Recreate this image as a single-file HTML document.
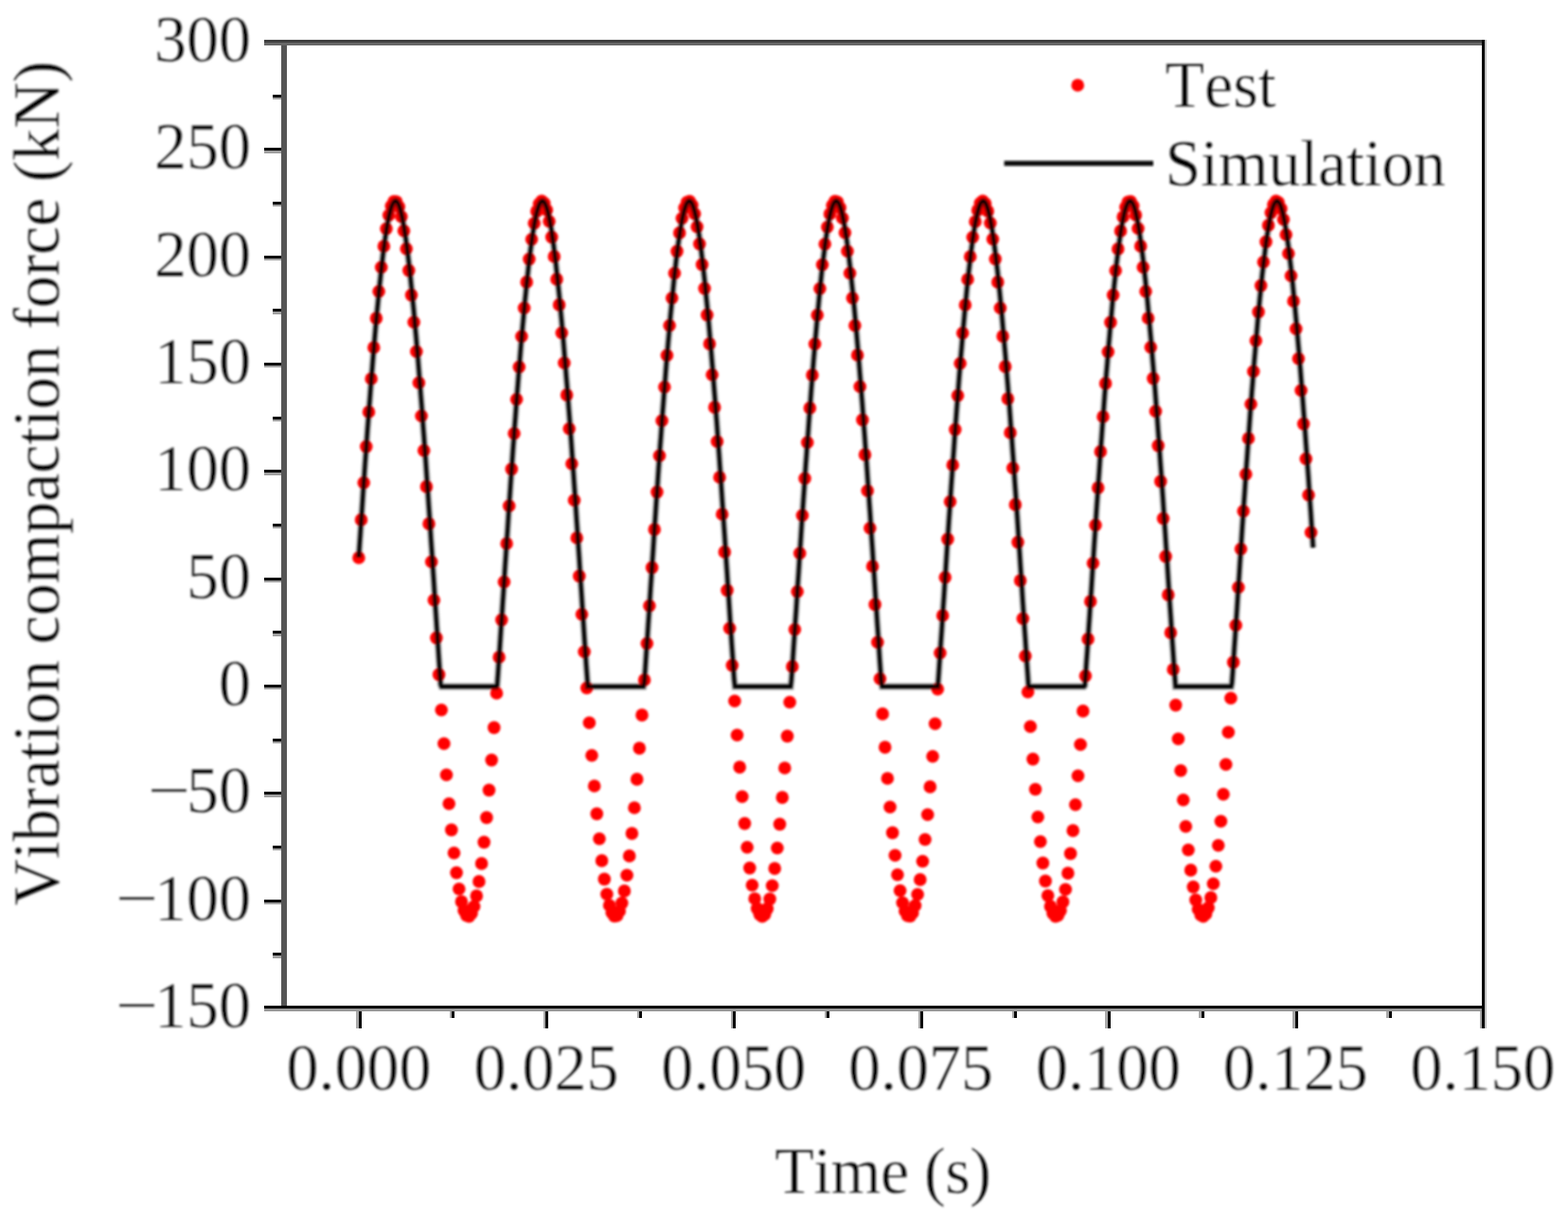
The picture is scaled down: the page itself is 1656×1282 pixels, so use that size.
<!DOCTYPE html>
<html lang="en">
<head>
<meta charset="utf-8">
<title>Vibration compaction force</title>
<style>
html,body{margin:0;padding:0;background:#fff;}
body{width:1656px;height:1282px;overflow:hidden;}
svg{display:block;}
text{font-family:"Liberation Serif", "DejaVu Serif", serif;font-size:68px;fill:#000;stroke:#fff;stroke-width:0.35px;font-kerning:none;}
</style>
</head>
<body>
<svg width="1656" height="1282" viewBox="0 0 1656 1282">
<defs><filter id="soft" x="0" y="0" width="1656" height="1282" filterUnits="userSpaceOnUse"><feGaussianBlur stdDeviation="0.8"/></filter><filter id="softt" x="0" y="0" width="1656" height="1282" filterUnits="userSpaceOnUse"><feGaussianBlur stdDeviation="0.8"/></filter></defs>
<rect x="0" y="0" width="1656" height="1282" fill="#ffffff"/>
<g filter="url(#soft)">
<g fill="#ff0000">
<circle cx="378.9" cy="589.0" r="6.8"/><circle cx="381.5" cy="548.9" r="6.8"/><circle cx="384.2" cy="509.7" r="6.8"/><circle cx="386.8" cy="471.6" r="6.8"/><circle cx="389.5" cy="435.0" r="6.8"/><circle cx="392.1" cy="400.0" r="6.8"/>
<circle cx="394.8" cy="367.0" r="6.8"/><circle cx="397.4" cy="336.1" r="6.8"/><circle cx="400.1" cy="307.8" r="6.8"/><circle cx="402.7" cy="282.3" r="6.8"/><circle cx="405.4" cy="260.0" r="6.8"/><circle cx="408.0" cy="241.5" r="6.8"/>
<circle cx="410.7" cy="227.3" r="6.8"/><circle cx="413.3" cy="217.6" r="6.8"/><circle cx="416.0" cy="212.8" r="6.8"/><circle cx="418.6" cy="213.1" r="6.8"/><circle cx="421.2" cy="218.4" r="6.8"/><circle cx="423.9" cy="228.8" r="6.8"/>
<circle cx="426.5" cy="243.7" r="6.8"/><circle cx="429.2" cy="262.8" r="6.8"/><circle cx="431.8" cy="285.6" r="6.8"/><circle cx="434.5" cy="311.6" r="6.8"/><circle cx="437.1" cy="340.2" r="6.8"/><circle cx="439.8" cy="371.3" r="6.8"/>
<circle cx="442.4" cy="404.3" r="6.8"/><circle cx="445.1" cy="439.3" r="6.8"/><circle cx="447.7" cy="475.8" r="6.8"/><circle cx="450.4" cy="513.9" r="6.8"/><circle cx="453.0" cy="553.1" r="6.8"/><circle cx="455.7" cy="593.3" r="6.8"/>
<circle cx="458.3" cy="633.8" r="6.8"/><circle cx="460.9" cy="673.6" r="6.8"/><circle cx="463.6" cy="712.4" r="6.8"/><circle cx="466.2" cy="749.7" r="6.8"/><circle cx="468.9" cy="785.2" r="6.8"/><circle cx="471.5" cy="818.3" r="6.8"/>
<circle cx="474.2" cy="848.8" r="6.8"/><circle cx="476.8" cy="876.4" r="6.8"/><circle cx="479.5" cy="900.7" r="6.8"/><circle cx="482.1" cy="921.6" r="6.8"/><circle cx="484.8" cy="938.8" r="6.8"/><circle cx="487.4" cy="952.1" r="6.8"/>
<circle cx="490.1" cy="961.4" r="6.8"/><circle cx="492.7" cy="966.6" r="6.8"/><circle cx="495.4" cy="967.6" r="6.8"/><circle cx="498.0" cy="964.5" r="6.8"/><circle cx="500.6" cy="957.3" r="6.8"/><circle cx="503.3" cy="946.1" r="6.8"/>
<circle cx="505.9" cy="930.9" r="6.8"/><circle cx="508.6" cy="911.9" r="6.8"/><circle cx="511.2" cy="889.4" r="6.8"/><circle cx="513.9" cy="863.4" r="6.8"/><circle cx="516.5" cy="834.4" r="6.8"/><circle cx="519.2" cy="802.6" r="6.8"/>
<circle cx="521.8" cy="768.4" r="6.8"/><circle cx="524.5" cy="732.0" r="6.8"/><circle cx="527.1" cy="694.0" r="6.8"/><circle cx="529.8" cy="654.6" r="6.8"/><circle cx="532.4" cy="614.5" r="6.8"/><circle cx="535.1" cy="574.0" r="6.8"/>
<circle cx="537.7" cy="534.2" r="6.8"/><circle cx="540.3" cy="495.4" r="6.8"/><circle cx="543.0" cy="457.8" r="6.8"/><circle cx="545.6" cy="421.8" r="6.8"/><circle cx="548.3" cy="387.5" r="6.8"/><circle cx="550.9" cy="355.3" r="6.8"/>
<circle cx="553.6" cy="325.3" r="6.8"/><circle cx="556.2" cy="297.9" r="6.8"/><circle cx="558.9" cy="273.6" r="6.8"/><circle cx="561.5" cy="252.7" r="6.8"/><circle cx="564.2" cy="235.7" r="6.8"/><circle cx="566.8" cy="223.1" r="6.8"/>
<circle cx="569.5" cy="215.2" r="6.8"/><circle cx="572.1" cy="212.3" r="6.8"/><circle cx="574.8" cy="214.5" r="6.8"/><circle cx="577.4" cy="221.7" r="6.8"/><circle cx="580.0" cy="233.8" r="6.8"/><circle cx="582.7" cy="250.4" r="6.8"/>
<circle cx="585.3" cy="270.9" r="6.8"/><circle cx="588.0" cy="294.9" r="6.8"/><circle cx="590.6" cy="321.9" r="6.8"/><circle cx="593.3" cy="351.5" r="6.8"/><circle cx="595.9" cy="383.3" r="6.8"/><circle cx="598.6" cy="417.1" r="6.8"/>
<circle cx="601.2" cy="452.7" r="6.8"/><circle cx="603.9" cy="489.8" r="6.8"/><circle cx="606.5" cy="528.3" r="6.8"/><circle cx="609.2" cy="568.0" r="6.8"/><circle cx="611.8" cy="608.4" r="6.8"/><circle cx="614.5" cy="648.7" r="6.8"/>
<circle cx="617.1" cy="688.2" r="6.8"/><circle cx="619.7" cy="726.5" r="6.8"/><circle cx="622.4" cy="763.2" r="6.8"/><circle cx="625.0" cy="797.8" r="6.8"/><circle cx="627.7" cy="830.0" r="6.8"/><circle cx="630.3" cy="859.4" r="6.8"/>
<circle cx="633.0" cy="885.8" r="6.8"/><circle cx="635.6" cy="908.9" r="6.8"/><circle cx="638.3" cy="928.4" r="6.8"/><circle cx="640.9" cy="944.2" r="6.8"/><circle cx="643.6" cy="956.0" r="6.8"/><circle cx="646.2" cy="963.8" r="6.8"/>
<circle cx="648.9" cy="967.5" r="6.8"/><circle cx="651.5" cy="967.0" r="6.8"/><circle cx="654.2" cy="962.3" r="6.8"/><circle cx="656.8" cy="953.6" r="6.8"/><circle cx="659.4" cy="940.9" r="6.8"/><circle cx="662.1" cy="924.3" r="6.8"/>
<circle cx="664.7" cy="903.9" r="6.8"/><circle cx="667.4" cy="880.1" r="6.8"/><circle cx="670.0" cy="853.0" r="6.8"/><circle cx="672.7" cy="822.9" r="6.8"/><circle cx="675.3" cy="790.1" r="6.8"/><circle cx="678.0" cy="755.1" r="6.8"/>
<circle cx="680.6" cy="718.0" r="6.8"/><circle cx="683.3" cy="679.5" r="6.8"/><circle cx="685.9" cy="639.8" r="6.8"/><circle cx="688.6" cy="599.4" r="6.8"/><circle cx="691.2" cy="559.1" r="6.8"/><circle cx="693.9" cy="519.6" r="6.8"/>
<circle cx="696.5" cy="481.2" r="6.8"/><circle cx="699.1" cy="444.2" r="6.8"/><circle cx="701.8" cy="408.8" r="6.8"/><circle cx="704.4" cy="375.3" r="6.8"/><circle cx="707.1" cy="343.8" r="6.8"/><circle cx="709.7" cy="314.8" r="6.8"/>
<circle cx="712.4" cy="288.5" r="6.8"/><circle cx="715.0" cy="265.4" r="6.8"/><circle cx="717.7" cy="245.9" r="6.8"/><circle cx="720.3" cy="230.5" r="6.8"/><circle cx="723.0" cy="219.6" r="6.8"/><circle cx="725.6" cy="213.5" r="6.8"/>
<circle cx="728.3" cy="212.5" r="6.8"/><circle cx="730.9" cy="216.6" r="6.8"/><circle cx="733.6" cy="225.7" r="6.8"/><circle cx="736.2" cy="239.5" r="6.8"/><circle cx="738.8" cy="257.6" r="6.8"/><circle cx="741.5" cy="279.4" r="6.8"/>
<circle cx="744.1" cy="304.6" r="6.8"/><circle cx="746.8" cy="332.6" r="6.8"/><circle cx="749.4" cy="363.1" r="6.8"/><circle cx="752.1" cy="395.7" r="6.8"/><circle cx="754.7" cy="430.1" r="6.8"/><circle cx="757.4" cy="466.3" r="6.8"/>
<circle cx="760.0" cy="504.0" r="6.8"/><circle cx="762.7" cy="543.0" r="6.8"/><circle cx="765.3" cy="582.9" r="6.8"/><circle cx="768.0" cy="623.4" r="6.8"/><circle cx="770.6" cy="663.5" r="6.8"/><circle cx="773.3" cy="702.6" r="6.8"/>
<circle cx="775.9" cy="740.3" r="6.8"/><circle cx="778.5" cy="776.3" r="6.8"/><circle cx="781.2" cy="810.1" r="6.8"/><circle cx="783.8" cy="841.3" r="6.8"/><circle cx="786.5" cy="869.6" r="6.8"/><circle cx="789.1" cy="894.8" r="6.8"/>
<circle cx="791.8" cy="916.6" r="6.8"/><circle cx="794.4" cy="934.7" r="6.8"/><circle cx="797.1" cy="949.0" r="6.8"/><circle cx="799.7" cy="959.4" r="6.8"/><circle cx="802.4" cy="965.6" r="6.8"/><circle cx="805.0" cy="967.8" r="6.8"/>
<circle cx="807.7" cy="965.7" r="6.8"/><circle cx="810.3" cy="959.6" r="6.8"/><circle cx="813.0" cy="949.4" r="6.8"/><circle cx="815.6" cy="935.2" r="6.8"/><circle cx="818.2" cy="917.1" r="6.8"/><circle cx="820.9" cy="895.5" r="6.8"/>
<circle cx="823.5" cy="870.4" r="6.8"/><circle cx="826.2" cy="842.1" r="6.8"/><circle cx="828.8" cy="811.0" r="6.8"/><circle cx="831.5" cy="777.4" r="6.8"/><circle cx="834.1" cy="741.5" r="6.8"/><circle cx="836.8" cy="703.9" r="6.8"/>
<circle cx="839.4" cy="664.8" r="6.8"/><circle cx="842.1" cy="624.8" r="6.8"/><circle cx="844.7" cy="584.3" r="6.8"/><circle cx="847.4" cy="544.3" r="6.8"/><circle cx="850.0" cy="505.2" r="6.8"/><circle cx="852.7" cy="467.3" r="6.8"/>
<circle cx="855.3" cy="430.9" r="6.8"/><circle cx="857.9" cy="396.1" r="6.8"/><circle cx="860.6" cy="363.3" r="6.8"/><circle cx="863.2" cy="332.7" r="6.8"/><circle cx="865.9" cy="304.7" r="6.8"/><circle cx="868.5" cy="279.5" r="6.8"/>
<circle cx="871.2" cy="257.7" r="6.8"/><circle cx="873.8" cy="239.7" r="6.8"/><circle cx="876.5" cy="225.9" r="6.8"/><circle cx="879.1" cy="216.8" r="6.8"/><circle cx="881.8" cy="212.6" r="6.8"/><circle cx="884.4" cy="213.4" r="6.8"/>
<circle cx="887.1" cy="219.4" r="6.8"/><circle cx="889.7" cy="230.3" r="6.8"/><circle cx="892.4" cy="245.7" r="6.8"/><circle cx="895.0" cy="265.3" r="6.8"/><circle cx="897.6" cy="288.5" r="6.8"/><circle cx="900.3" cy="314.7" r="6.8"/>
<circle cx="902.9" cy="343.7" r="6.8"/><circle cx="905.6" cy="375.0" r="6.8"/><circle cx="908.2" cy="408.3" r="6.8"/><circle cx="910.9" cy="443.4" r="6.8"/><circle cx="913.5" cy="480.1" r="6.8"/><circle cx="916.2" cy="518.3" r="6.8"/>
<circle cx="918.8" cy="557.7" r="6.8"/><circle cx="921.5" cy="598.0" r="6.8"/><circle cx="924.1" cy="638.4" r="6.8"/><circle cx="926.8" cy="678.2" r="6.8"/><circle cx="929.4" cy="716.8" r="6.8"/><circle cx="932.1" cy="753.9" r="6.8"/>
<circle cx="934.7" cy="789.1" r="6.8"/><circle cx="937.3" cy="822.0" r="6.8"/><circle cx="940.0" cy="852.2" r="6.8"/><circle cx="942.6" cy="879.4" r="6.8"/><circle cx="945.3" cy="903.3" r="6.8"/><circle cx="947.9" cy="923.8" r="6.8"/>
<circle cx="950.6" cy="940.5" r="6.8"/><circle cx="953.2" cy="953.3" r="6.8"/><circle cx="955.9" cy="962.2" r="6.8"/><circle cx="958.5" cy="966.9" r="6.8"/><circle cx="961.2" cy="967.5" r="6.8"/><circle cx="963.8" cy="963.9" r="6.8"/>
<circle cx="966.5" cy="956.2" r="6.8"/><circle cx="969.1" cy="944.5" r="6.8"/><circle cx="971.8" cy="928.9" r="6.8"/><circle cx="974.4" cy="909.5" r="6.8"/><circle cx="977.0" cy="886.5" r="6.8"/><circle cx="979.7" cy="860.2" r="6.8"/>
<circle cx="982.3" cy="830.9" r="6.8"/><circle cx="985.0" cy="798.8" r="6.8"/><circle cx="987.6" cy="764.3" r="6.8"/><circle cx="990.3" cy="727.7" r="6.8"/><circle cx="992.9" cy="689.5" r="6.8"/><circle cx="995.6" cy="650.0" r="6.8"/>
<circle cx="998.2" cy="609.8" r="6.8"/><circle cx="1000.9" cy="569.4" r="6.8"/><circle cx="1003.5" cy="529.7" r="6.8"/><circle cx="1006.2" cy="491.0" r="6.8"/><circle cx="1008.8" cy="453.6" r="6.8"/><circle cx="1011.5" cy="417.7" r="6.8"/>
<circle cx="1014.1" cy="383.7" r="6.8"/><circle cx="1016.7" cy="351.7" r="6.8"/><circle cx="1019.4" cy="322.0" r="6.8"/><circle cx="1022.0" cy="295.0" r="6.8"/><circle cx="1024.7" cy="271.0" r="6.8"/><circle cx="1027.3" cy="250.5" r="6.8"/>
<circle cx="1030.0" cy="234.0" r="6.8"/><circle cx="1032.6" cy="222.0" r="6.8"/><circle cx="1035.3" cy="214.6" r="6.8"/><circle cx="1037.9" cy="212.3" r="6.8"/><circle cx="1040.6" cy="215.0" r="6.8"/><circle cx="1043.2" cy="222.9" r="6.8"/>
<circle cx="1045.9" cy="235.5" r="6.8"/><circle cx="1048.5" cy="252.5" r="6.8"/><circle cx="1051.2" cy="273.5" r="6.8"/><circle cx="1053.8" cy="297.9" r="6.8"/><circle cx="1056.4" cy="325.2" r="6.8"/><circle cx="1059.1" cy="355.1" r="6.8"/>
<circle cx="1061.7" cy="387.1" r="6.8"/><circle cx="1064.4" cy="421.1" r="6.8"/><circle cx="1067.0" cy="456.9" r="6.8"/><circle cx="1069.7" cy="494.2" r="6.8"/><circle cx="1072.3" cy="532.9" r="6.8"/><circle cx="1075.0" cy="572.6" r="6.8"/>
<circle cx="1077.6" cy="613.1" r="6.8"/><circle cx="1080.3" cy="653.3" r="6.8"/><circle cx="1082.9" cy="692.7" r="6.8"/><circle cx="1085.6" cy="730.8" r="6.8"/><circle cx="1088.2" cy="767.3" r="6.8"/><circle cx="1090.9" cy="801.6" r="6.8"/>
<circle cx="1093.5" cy="833.5" r="6.8"/><circle cx="1096.1" cy="862.7" r="6.8"/><circle cx="1098.8" cy="888.7" r="6.8"/><circle cx="1101.4" cy="911.4" r="6.8"/><circle cx="1104.1" cy="930.4" r="6.8"/><circle cx="1106.7" cy="945.7" r="6.8"/>
<circle cx="1109.4" cy="957.1" r="6.8"/><circle cx="1112.0" cy="964.4" r="6.8"/><circle cx="1114.7" cy="967.6" r="6.8"/><circle cx="1117.3" cy="966.7" r="6.8"/><circle cx="1120.0" cy="961.6" r="6.8"/><circle cx="1122.6" cy="952.4" r="6.8"/>
<circle cx="1125.3" cy="939.2" r="6.8"/><circle cx="1127.9" cy="922.1" r="6.8"/><circle cx="1130.6" cy="901.4" r="6.8"/><circle cx="1133.2" cy="877.1" r="6.8"/><circle cx="1135.8" cy="849.7" r="6.8"/><circle cx="1138.5" cy="819.3" r="6.8"/>
<circle cx="1141.1" cy="786.2" r="6.8"/><circle cx="1143.8" cy="750.9" r="6.8"/><circle cx="1146.4" cy="713.7" r="6.8"/><circle cx="1149.1" cy="674.9" r="6.8"/><circle cx="1151.7" cy="635.1" r="6.8"/><circle cx="1154.4" cy="594.7" r="6.8"/>
<circle cx="1157.0" cy="554.5" r="6.8"/><circle cx="1159.7" cy="515.1" r="6.8"/><circle cx="1162.3" cy="476.9" r="6.8"/><circle cx="1165.0" cy="440.0" r="6.8"/><circle cx="1167.6" cy="404.9" r="6.8"/><circle cx="1170.3" cy="371.5" r="6.8"/>
<circle cx="1172.9" cy="340.4" r="6.8"/><circle cx="1175.6" cy="311.6" r="6.8"/><circle cx="1178.2" cy="285.7" r="6.8"/><circle cx="1180.8" cy="262.9" r="6.8"/><circle cx="1183.5" cy="243.9" r="6.8"/><circle cx="1186.1" cy="229.0" r="6.8"/>
<circle cx="1188.8" cy="218.7" r="6.8"/><circle cx="1191.4" cy="213.2" r="6.8"/><circle cx="1194.1" cy="212.7" r="6.8"/><circle cx="1196.7" cy="217.4" r="6.8"/><circle cx="1199.4" cy="227.0" r="6.8"/><circle cx="1202.0" cy="241.3" r="6.8"/>
<circle cx="1204.7" cy="259.9" r="6.8"/><circle cx="1207.3" cy="282.2" r="6.8"/><circle cx="1210.0" cy="307.7" r="6.8"/><circle cx="1212.6" cy="336.0" r="6.8"/><circle cx="1215.3" cy="366.8" r="6.8"/><circle cx="1217.9" cy="399.6" r="6.8"/>
<circle cx="1220.5" cy="434.2" r="6.8"/><circle cx="1223.2" cy="470.6" r="6.8"/><circle cx="1225.8" cy="508.4" r="6.8"/><circle cx="1228.5" cy="547.5" r="6.8"/><circle cx="1231.1" cy="587.6" r="6.8"/><circle cx="1233.8" cy="628.1" r="6.8"/>
<circle cx="1236.4" cy="668.1" r="6.8"/><circle cx="1239.1" cy="707.0" r="6.8"/><circle cx="1241.7" cy="744.6" r="6.8"/><circle cx="1244.4" cy="780.3" r="6.8"/><circle cx="1247.0" cy="813.8" r="6.8"/><circle cx="1249.7" cy="844.7" r="6.8"/>
<circle cx="1252.3" cy="872.7" r="6.8"/><circle cx="1255.0" cy="897.5" r="6.8"/><circle cx="1257.6" cy="918.9" r="6.8"/><circle cx="1260.2" cy="936.6" r="6.8"/><circle cx="1262.9" cy="950.4" r="6.8"/><circle cx="1265.5" cy="960.3" r="6.8"/>
<circle cx="1268.2" cy="966.1" r="6.8"/><circle cx="1270.8" cy="967.7" r="6.8"/><circle cx="1273.5" cy="965.2" r="6.8"/><circle cx="1276.1" cy="958.6" r="6.8"/><circle cx="1278.8" cy="947.9" r="6.8"/><circle cx="1281.4" cy="933.3" r="6.8"/>
<circle cx="1284.1" cy="914.8" r="6.8"/><circle cx="1286.7" cy="892.8" r="6.8"/><circle cx="1289.4" cy="867.3" r="6.8"/><circle cx="1292.0" cy="838.7" r="6.8"/><circle cx="1294.7" cy="807.3" r="6.8"/><circle cx="1297.3" cy="773.3" r="6.8"/>
<circle cx="1299.9" cy="737.2" r="6.8"/><circle cx="1302.6" cy="699.4" r="6.8"/><circle cx="1305.2" cy="660.2" r="6.8"/><circle cx="1307.9" cy="620.2" r="6.8"/><circle cx="1310.5" cy="579.7" r="6.8"/><circle cx="1313.2" cy="539.8" r="6.8"/>
<circle cx="1315.8" cy="500.8" r="6.8"/><circle cx="1318.5" cy="463.0" r="6.8"/><circle cx="1321.1" cy="426.8" r="6.8"/><circle cx="1323.8" cy="392.2" r="6.8"/><circle cx="1326.4" cy="359.7" r="6.8"/><circle cx="1329.1" cy="329.4" r="6.8"/>
<circle cx="1331.7" cy="301.6" r="6.8"/><circle cx="1334.4" cy="276.8" r="6.8"/><circle cx="1337.0" cy="255.4" r="6.8"/><circle cx="1339.6" cy="237.9" r="6.8"/><circle cx="1342.3" cy="224.6" r="6.8"/><circle cx="1344.9" cy="216.0" r="6.8"/>
<circle cx="1347.6" cy="212.4" r="6.8"/><circle cx="1350.2" cy="213.8" r="6.8"/><circle cx="1352.9" cy="220.4" r="6.8"/><circle cx="1355.5" cy="231.8" r="6.8"/><circle cx="1358.2" cy="247.8" r="6.8"/><circle cx="1360.8" cy="267.8" r="6.8"/>
<circle cx="1363.5" cy="291.3" r="6.8"/><circle cx="1366.1" cy="318.0" r="6.8"/><circle cx="1368.8" cy="347.2" r="6.8"/><circle cx="1371.4" cy="378.7" r="6.8"/><circle cx="1374.1" cy="412.2" r="6.8"/><circle cx="1376.7" cy="447.6" r="6.8"/>
<circle cx="1379.3" cy="484.5" r="6.8"/><circle cx="1382.0" cy="522.8" r="6.8"/><circle cx="1384.6" cy="562.3" r="6.8"/>
</g>
<polyline fill="none" stroke="#000" stroke-opacity="0.35" stroke-width="7.4" stroke-linejoin="miter" points="378.9,589.0 379.7,576.2 380.6,563.5 381.4,550.9 382.3,538.3 383.1,525.9 383.9,513.6 384.8,501.3 385.6,489.3 386.5,477.4 
387.3,465.6 388.1,454.0 389.0,442.5 389.8,431.2 390.7,420.1 391.5,409.2 392.3,398.4 393.2,387.9 394.0,377.5 394.9,367.4 
395.7,357.5 396.5,347.8 397.4,338.3 398.2,329.1 399.1,320.2 399.9,311.5 400.7,303.1 401.6,295.0 402.4,287.1 403.3,279.6 
404.1,272.4 404.9,265.6 405.8,259.1 406.6,253.0 407.5,247.3 408.3,241.9 409.1,237.0 410.0,232.5 410.8,228.4 411.7,224.7 
412.5,221.5 413.3,218.8 414.2,216.5 415.0,214.8 415.9,213.4 416.7,212.6 417.5,212.3 418.4,212.4 419.2,213.1 420.1,214.2 
420.9,215.9 421.7,218.0 422.6,220.6 423.4,223.7 424.3,227.3 425.1,231.2 425.9,235.7 426.8,240.5 427.6,245.8 428.5,251.5 
429.3,257.5 430.1,264.0 431.0,270.7 431.8,277.8 432.7,285.3 433.5,293.0 434.3,301.1 435.2,309.4 436.0,318.0 436.9,326.9 
437.7,336.0 438.5,345.4 439.4,354.9 440.2,364.7 441.1,374.8 441.9,385.0 442.7,395.4 443.6,406.0 444.4,416.8 445.3,427.8 
446.1,438.9 446.9,450.2 447.8,461.7 448.6,473.4 449.5,485.2 450.3,497.1 451.1,509.2 452.0,521.4 452.8,533.8 453.7,546.2 
454.5,558.8 455.3,571.5 456.2,584.2 457.0,597.1 457.9,610.0 458.7,622.8 459.5,635.6 460.4,648.4 461.2,661.1 462.1,673.7 
462.9,686.2 463.7,698.6 464.6,710.8 465.4,722.9 466.3,725.0 524.2,725.0 525.0,724.3 525.9,712.2 526.7,700.0 527.6,687.6 
528.4,675.1 529.2,662.5 530.1,649.9 530.9,637.1 531.8,624.3 532.6,611.5 533.4,598.6 534.3,585.7 535.1,573.0 536.0,560.3 
536.8,547.6 537.6,535.1 538.5,522.7 539.3,510.4 540.2,498.3 541.0,486.2 541.8,474.3 542.7,462.6 543.5,451.0 544.4,439.6 
545.2,428.3 546.0,417.3 546.9,406.4 547.7,395.7 548.6,385.2 549.4,374.9 550.2,364.8 551.1,355.0 551.9,345.4 552.8,336.0 
553.6,326.8 554.4,317.9 555.3,309.3 556.1,301.0 557.0,292.9 557.8,285.2 558.6,277.8 559.5,270.7 560.3,263.9 561.2,257.5 
562.0,251.5 562.8,245.9 563.7,240.6 564.5,235.8 565.4,231.4 566.2,227.4 567.0,223.9 567.9,220.8 568.7,218.2 569.6,216.0 
570.4,214.4 571.2,213.2 572.1,212.5 572.9,212.3 573.8,212.6 574.6,213.3 575.4,214.6 576.3,216.4 577.1,218.6 578.0,221.4 
578.8,224.6 579.6,228.2 580.5,232.3 581.3,236.9 582.2,241.8 583.0,247.2 583.8,253.0 584.7,259.1 585.5,265.7 586.4,272.5 
587.2,279.7 588.0,287.2 588.9,295.1 589.7,303.2 590.6,311.6 591.4,320.3 592.2,329.2 593.1,338.4 593.9,347.8 594.8,357.4 
595.6,367.3 596.4,377.3 597.3,387.6 598.1,398.1 599.0,408.7 599.8,419.6 600.6,430.6 601.5,441.8 602.3,453.1 603.2,464.7 
604.0,476.4 604.8,488.2 605.7,500.2 606.5,512.3 607.4,524.6 608.2,536.9 609.0,549.4 609.9,562.0 610.7,574.7 611.6,587.5 
612.4,600.4 613.2,613.2 614.1,626.1 614.9,638.9 615.8,651.6 616.6,664.3 617.4,676.9 618.3,689.3 619.1,701.7 620.0,713.9 
620.8,725.0 679.6,725.0 680.4,721.3 681.3,709.1 682.1,696.8 682.9,684.4 683.8,671.9 684.6,659.3 685.5,646.6 686.3,633.8 
687.1,621.0 688.0,608.2 688.8,595.3 689.7,582.5 690.5,569.7 691.3,557.0 692.2,544.4 693.0,531.9 693.9,519.6 694.7,507.3 
695.5,495.2 696.4,483.2 697.2,471.3 698.1,459.6 698.9,448.1 699.7,436.7 700.6,425.5 701.4,414.5 702.3,403.6 703.1,393.0 
703.9,382.6 704.8,372.3 705.6,362.3 706.5,352.5 707.3,342.9 708.1,333.6 709.0,324.5 709.8,315.7 710.7,307.2 711.5,298.9 
712.3,290.9 713.2,283.3 714.0,275.9 714.9,268.9 715.7,262.2 716.5,255.9 717.4,250.0 718.2,244.5 719.1,239.3 719.9,234.6 
720.7,230.3 721.6,226.5 722.4,223.0 723.3,220.1 724.1,217.6 724.9,215.6 725.8,214.0 726.6,213.0 727.5,212.4 728.3,212.3 
729.1,212.7 730.0,213.6 730.8,215.0 731.7,216.9 732.5,219.3 733.3,222.1 734.2,225.5 735.0,229.2 735.9,233.5 736.7,238.1 
737.5,243.2 738.4,248.7 739.2,254.5 740.1,260.8 740.9,267.4 741.7,274.3 742.6,281.6 743.4,289.2 744.3,297.1 745.1,305.3 
745.9,313.8 746.8,322.5 747.6,331.5 748.5,340.8 749.3,350.2 750.1,359.9 751.0,369.8 751.8,379.9 752.7,390.3 753.5,400.8 
754.3,411.5 755.2,422.4 756.0,433.4 756.9,444.7 757.7,456.1 758.5,467.6 759.4,479.4 760.2,491.2 761.1,503.3 761.9,515.4 
762.7,527.7 763.6,540.1 764.4,552.7 765.3,565.3 766.1,578.0 766.9,590.8 767.8,603.7 768.6,616.5 769.5,629.4 770.3,642.1 
771.1,654.9 772.0,667.5 772.8,680.1 773.7,692.5 774.5,704.8 775.3,717.0 776.2,725.0 835.0,725.0 835.8,718.2 836.7,706.0 
837.5,693.7 838.3,681.2 839.2,668.7 840.0,656.1 840.9,643.3 841.7,630.6 842.5,617.7 843.4,604.9 844.2,592.0 845.1,579.2 
845.9,566.5 846.7,553.8 847.6,541.2 848.4,528.8 849.3,516.4 850.1,504.2 850.9,492.1 851.8,480.1 852.6,468.3 853.5,456.7 
854.3,445.2 855.1,433.8 856.0,422.7 856.8,411.7 857.7,400.9 858.5,390.3 859.3,379.9 860.2,369.7 861.0,359.8 861.9,350.0 
862.7,340.5 863.5,331.3 864.4,322.2 865.2,313.5 866.1,305.0 866.9,296.8 867.7,288.9 868.6,281.3 869.4,274.1 870.3,267.2 
871.1,260.6 871.9,254.4 872.8,248.6 873.6,243.1 874.5,238.1 875.3,233.5 876.1,229.3 877.0,225.5 877.8,222.2 878.7,219.4 
879.5,217.0 880.3,215.1 881.2,213.7 882.0,212.8 882.8,212.3 883.7,212.4 884.5,212.9 885.4,213.9 886.2,215.5 887.0,217.5 
887.9,220.0 888.7,222.9 889.6,226.4 890.4,230.3 891.2,234.6 892.1,239.4 892.9,244.5 893.8,250.1 894.6,256.1 895.4,262.4 
896.3,269.1 897.1,276.2 898.0,283.5 898.8,291.2 899.6,299.2 900.5,307.5 901.3,316.0 902.2,324.8 903.0,333.9 903.8,343.2 
904.7,352.7 905.5,362.4 906.4,372.4 907.2,382.6 908.0,392.9 908.9,403.5 909.7,414.2 910.6,425.2 911.4,436.3 912.2,447.6 
913.1,459.0 913.9,470.6 914.8,482.4 915.6,494.3 916.4,506.4 917.3,518.6 918.1,530.9 919.0,543.3 919.8,555.9 920.6,568.5 
921.5,581.3 922.3,594.1 923.2,607.0 924.0,619.8 924.8,632.6 925.7,645.4 926.5,658.1 927.4,670.7 928.2,683.2 929.0,695.7 
929.9,708.0 930.7,720.1 931.6,725.0 990.4,725.0 991.2,715.1 992.0,702.9 992.9,690.5 993.7,678.0 994.6,665.5 995.4,652.8 
996.2,640.1 997.1,627.3 997.9,614.5 998.8,601.6 999.6,588.7 1000.4,575.9 1001.3,563.2 1002.1,550.6 1003.0,538.0 1003.8,525.6 
1004.6,513.3 1005.5,501.1 1006.3,489.0 1007.2,477.1 1008.0,465.3 1008.8,453.7 1009.7,442.2 1010.5,431.0 1011.4,419.8 1012.2,408.9 
1013.0,398.2 1013.9,387.6 1014.7,377.3 1015.6,367.2 1016.4,357.3 1017.2,347.6 1018.1,338.1 1018.9,328.9 1019.8,320.0 1020.6,311.3 
1021.4,302.9 1022.3,294.8 1023.1,287.0 1024.0,279.5 1024.8,272.3 1025.6,265.5 1026.5,259.0 1027.3,252.9 1028.2,247.1 1029.0,241.8 
1029.8,236.9 1030.7,232.4 1031.5,228.3 1032.4,224.6 1033.2,221.5 1034.0,218.7 1034.9,216.5 1035.7,214.7 1036.6,213.4 1037.4,212.6 
1038.2,212.3 1039.1,212.5 1039.9,213.1 1040.8,214.3 1041.6,215.9 1042.4,218.1 1043.3,220.7 1044.1,223.8 1045.0,227.3 1045.8,231.3 
1046.6,235.8 1047.5,240.6 1048.3,245.9 1049.2,251.6 1050.0,257.7 1050.8,264.1 1051.7,270.9 1052.5,278.0 1053.4,285.5 1054.2,293.2 
1055.0,301.3 1055.9,309.6 1056.7,318.2 1057.6,327.1 1058.4,336.2 1059.2,345.6 1060.1,355.2 1060.9,365.0 1061.8,375.0 1062.6,385.2 
1063.4,395.6 1064.3,406.2 1065.1,417.0 1066.0,428.0 1066.8,439.1 1067.6,450.5 1068.5,462.0 1069.3,473.6 1070.2,485.4 1071.0,497.4 
1071.8,509.5 1072.7,521.7 1073.5,534.0 1074.4,546.5 1075.2,559.1 1076.0,571.8 1076.9,584.5 1077.7,597.4 1078.6,610.2 1079.4,623.1 
1080.2,635.9 1081.1,648.6 1081.9,661.3 1082.8,673.9 1083.6,686.4 1084.4,698.8 1085.3,711.1 1086.1,723.2 1086.9,725.0 1144.9,725.0 
1145.7,724.1 1146.6,712.0 1147.4,699.7 1148.3,687.3 1149.1,674.8 1149.9,662.3 1150.8,649.6 1151.6,636.8 1152.5,624.0 1153.3,611.2 
1154.1,598.3 1155.0,585.4 1155.8,572.7 1156.7,560.0 1157.5,547.4 1158.3,534.9 1159.2,522.4 1160.0,510.2 1160.9,498.0 1161.7,486.0 
1162.5,474.1 1163.4,462.3 1164.2,450.8 1165.1,439.3 1165.9,428.1 1166.7,417.0 1167.6,406.2 1168.4,395.5 1169.3,385.0 1170.1,374.7 
1170.9,364.6 1171.8,354.8 1172.6,345.1 1173.5,335.8 1174.3,326.6 1175.1,317.7 1176.0,309.1 1176.8,300.8 1177.7,292.8 1178.5,285.0 
1179.3,277.6 1180.2,270.5 1181.0,263.8 1181.9,257.4 1182.7,251.4 1183.5,245.7 1184.4,240.5 1185.2,235.7 1186.1,231.3 1186.9,227.3 
1187.7,223.8 1188.6,220.7 1189.4,218.1 1190.3,216.0 1191.1,214.3 1191.9,213.2 1192.8,212.5 1193.6,212.3 1194.5,212.6 1195.3,213.4 
1196.1,214.7 1197.0,216.4 1197.8,218.7 1198.7,221.4 1199.5,224.6 1200.3,228.3 1201.2,232.4 1202.0,237.0 1202.9,242.0 1203.7,247.3 
1204.5,253.1 1205.4,259.3 1206.2,265.8 1207.1,272.7 1207.9,279.9 1208.7,287.4 1209.6,295.2 1210.4,303.4 1211.3,311.8 1212.1,320.5 
1212.9,329.4 1213.8,338.6 1214.6,348.0 1215.5,357.6 1216.3,367.5 1217.1,377.6 1218.0,387.8 1218.8,398.3 1219.7,409.0 1220.5,419.8 
1221.3,430.8 1222.2,442.0 1223.0,453.4 1223.9,464.9 1224.7,476.6 1225.5,488.5 1226.4,500.4 1227.2,512.6 1228.1,524.8 1228.9,537.2 
1229.7,549.7 1230.6,562.3 1231.4,575.0 1232.3,587.8 1233.1,600.7 1233.9,613.5 1234.8,626.4 1235.6,639.2 1236.5,651.9 1237.3,664.6 
1238.1,677.1 1239.0,689.6 1239.8,702.0 1240.7,714.2 1241.5,725.0 1300.3,725.0 1301.1,721.0 1302.0,708.9 1302.8,696.6 1303.6,684.2 
1304.5,671.6 1305.3,659.0 1306.2,646.3 1307.0,633.6 1307.8,620.7 1308.7,607.9 1309.5,595.0 1310.4,582.2 1311.2,569.4 1312.0,556.8 
1312.9,544.2 1313.7,531.7 1314.6,519.3 1315.4,507.0 1316.2,494.9 1317.1,482.9 1317.9,471.1 1318.8,459.4 1319.6,447.8 1320.4,436.5 
1321.3,425.3 1322.1,414.2 1323.0,403.4 1323.8,392.8 1324.6,382.3 1325.5,372.1 1326.3,362.1 1327.2,352.3 1328.0,342.7 1328.8,333.4 
1329.7,324.3 1330.5,315.5 1331.4,307.0 1332.2,298.7 1333.0,290.7 1333.9,283.1 1334.7,275.8 1335.6,268.8 1336.4,262.1 1337.2,255.8 
1338.1,249.9 1338.9,244.4 1339.8,239.2 1340.6,234.5 1341.4,230.2 1342.3,226.4 1343.1,223.0 1344.0,220.0 1344.8,217.5 1345.6,215.5 
1346.5,214.0 1347.3,212.9 1348.2,212.4 1349.0,212.3 1349.8,212.7 1350.7,213.7 1351.5,215.1 1352.4,217.0 1353.2,219.4 1354.0,222.2 
1354.9,225.5 1355.7,229.3 1356.6,233.6 1357.4,238.2 1358.2,243.3 1359.1,248.8 1359.9,254.7 1360.8,260.9 1361.6,267.5 1362.4,274.5 
1363.3,281.8 1364.1,289.4 1365.0,297.3 1365.8,305.5 1366.6,314.0 1367.5,322.7 1368.3,331.7 1369.2,341.0 1370.0,350.4 1370.8,360.1 
1371.7,370.1 1372.5,380.2 1373.4,390.5 1374.2,401.0 1375.0,411.7 1375.9,422.6 1376.7,433.7 1377.6,444.9 1378.4,456.3 1379.2,467.9 
1380.1,479.6 1380.9,491.5 1381.8,503.5 1382.6,515.7 1383.4,528.0 1384.3,540.4 1385.1,552.9 1386.0,565.6 1386.8,578.3"/>
<polyline fill="none" stroke="#000" stroke-width="3.8" stroke-linejoin="miter" points="378.9,589.0 379.7,576.2 380.6,563.5 381.4,550.9 382.3,538.3 383.1,525.9 383.9,513.6 384.8,501.3 385.6,489.3 386.5,477.4 
387.3,465.6 388.1,454.0 389.0,442.5 389.8,431.2 390.7,420.1 391.5,409.2 392.3,398.4 393.2,387.9 394.0,377.5 394.9,367.4 
395.7,357.5 396.5,347.8 397.4,338.3 398.2,329.1 399.1,320.2 399.9,311.5 400.7,303.1 401.6,295.0 402.4,287.1 403.3,279.6 
404.1,272.4 404.9,265.6 405.8,259.1 406.6,253.0 407.5,247.3 408.3,241.9 409.1,237.0 410.0,232.5 410.8,228.4 411.7,224.7 
412.5,221.5 413.3,218.8 414.2,216.5 415.0,214.8 415.9,213.4 416.7,212.6 417.5,212.3 418.4,212.4 419.2,213.1 420.1,214.2 
420.9,215.9 421.7,218.0 422.6,220.6 423.4,223.7 424.3,227.3 425.1,231.2 425.9,235.7 426.8,240.5 427.6,245.8 428.5,251.5 
429.3,257.5 430.1,264.0 431.0,270.7 431.8,277.8 432.7,285.3 433.5,293.0 434.3,301.1 435.2,309.4 436.0,318.0 436.9,326.9 
437.7,336.0 438.5,345.4 439.4,354.9 440.2,364.7 441.1,374.8 441.9,385.0 442.7,395.4 443.6,406.0 444.4,416.8 445.3,427.8 
446.1,438.9 446.9,450.2 447.8,461.7 448.6,473.4 449.5,485.2 450.3,497.1 451.1,509.2 452.0,521.4 452.8,533.8 453.7,546.2 
454.5,558.8 455.3,571.5 456.2,584.2 457.0,597.1 457.9,610.0 458.7,622.8 459.5,635.6 460.4,648.4 461.2,661.1 462.1,673.7 
462.9,686.2 463.7,698.6 464.6,710.8 465.4,722.9 466.3,725.0 524.2,725.0 525.0,724.3 525.9,712.2 526.7,700.0 527.6,687.6 
528.4,675.1 529.2,662.5 530.1,649.9 530.9,637.1 531.8,624.3 532.6,611.5 533.4,598.6 534.3,585.7 535.1,573.0 536.0,560.3 
536.8,547.6 537.6,535.1 538.5,522.7 539.3,510.4 540.2,498.3 541.0,486.2 541.8,474.3 542.7,462.6 543.5,451.0 544.4,439.6 
545.2,428.3 546.0,417.3 546.9,406.4 547.7,395.7 548.6,385.2 549.4,374.9 550.2,364.8 551.1,355.0 551.9,345.4 552.8,336.0 
553.6,326.8 554.4,317.9 555.3,309.3 556.1,301.0 557.0,292.9 557.8,285.2 558.6,277.8 559.5,270.7 560.3,263.9 561.2,257.5 
562.0,251.5 562.8,245.9 563.7,240.6 564.5,235.8 565.4,231.4 566.2,227.4 567.0,223.9 567.9,220.8 568.7,218.2 569.6,216.0 
570.4,214.4 571.2,213.2 572.1,212.5 572.9,212.3 573.8,212.6 574.6,213.3 575.4,214.6 576.3,216.4 577.1,218.6 578.0,221.4 
578.8,224.6 579.6,228.2 580.5,232.3 581.3,236.9 582.2,241.8 583.0,247.2 583.8,253.0 584.7,259.1 585.5,265.7 586.4,272.5 
587.2,279.7 588.0,287.2 588.9,295.1 589.7,303.2 590.6,311.6 591.4,320.3 592.2,329.2 593.1,338.4 593.9,347.8 594.8,357.4 
595.6,367.3 596.4,377.3 597.3,387.6 598.1,398.1 599.0,408.7 599.8,419.6 600.6,430.6 601.5,441.8 602.3,453.1 603.2,464.7 
604.0,476.4 604.8,488.2 605.7,500.2 606.5,512.3 607.4,524.6 608.2,536.9 609.0,549.4 609.9,562.0 610.7,574.7 611.6,587.5 
612.4,600.4 613.2,613.2 614.1,626.1 614.9,638.9 615.8,651.6 616.6,664.3 617.4,676.9 618.3,689.3 619.1,701.7 620.0,713.9 
620.8,725.0 679.6,725.0 680.4,721.3 681.3,709.1 682.1,696.8 682.9,684.4 683.8,671.9 684.6,659.3 685.5,646.6 686.3,633.8 
687.1,621.0 688.0,608.2 688.8,595.3 689.7,582.5 690.5,569.7 691.3,557.0 692.2,544.4 693.0,531.9 693.9,519.6 694.7,507.3 
695.5,495.2 696.4,483.2 697.2,471.3 698.1,459.6 698.9,448.1 699.7,436.7 700.6,425.5 701.4,414.5 702.3,403.6 703.1,393.0 
703.9,382.6 704.8,372.3 705.6,362.3 706.5,352.5 707.3,342.9 708.1,333.6 709.0,324.5 709.8,315.7 710.7,307.2 711.5,298.9 
712.3,290.9 713.2,283.3 714.0,275.9 714.9,268.9 715.7,262.2 716.5,255.9 717.4,250.0 718.2,244.5 719.1,239.3 719.9,234.6 
720.7,230.3 721.6,226.5 722.4,223.0 723.3,220.1 724.1,217.6 724.9,215.6 725.8,214.0 726.6,213.0 727.5,212.4 728.3,212.3 
729.1,212.7 730.0,213.6 730.8,215.0 731.7,216.9 732.5,219.3 733.3,222.1 734.2,225.5 735.0,229.2 735.9,233.5 736.7,238.1 
737.5,243.2 738.4,248.7 739.2,254.5 740.1,260.8 740.9,267.4 741.7,274.3 742.6,281.6 743.4,289.2 744.3,297.1 745.1,305.3 
745.9,313.8 746.8,322.5 747.6,331.5 748.5,340.8 749.3,350.2 750.1,359.9 751.0,369.8 751.8,379.9 752.7,390.3 753.5,400.8 
754.3,411.5 755.2,422.4 756.0,433.4 756.9,444.7 757.7,456.1 758.5,467.6 759.4,479.4 760.2,491.2 761.1,503.3 761.9,515.4 
762.7,527.7 763.6,540.1 764.4,552.7 765.3,565.3 766.1,578.0 766.9,590.8 767.8,603.7 768.6,616.5 769.5,629.4 770.3,642.1 
771.1,654.9 772.0,667.5 772.8,680.1 773.7,692.5 774.5,704.8 775.3,717.0 776.2,725.0 835.0,725.0 835.8,718.2 836.7,706.0 
837.5,693.7 838.3,681.2 839.2,668.7 840.0,656.1 840.9,643.3 841.7,630.6 842.5,617.7 843.4,604.9 844.2,592.0 845.1,579.2 
845.9,566.5 846.7,553.8 847.6,541.2 848.4,528.8 849.3,516.4 850.1,504.2 850.9,492.1 851.8,480.1 852.6,468.3 853.5,456.7 
854.3,445.2 855.1,433.8 856.0,422.7 856.8,411.7 857.7,400.9 858.5,390.3 859.3,379.9 860.2,369.7 861.0,359.8 861.9,350.0 
862.7,340.5 863.5,331.3 864.4,322.2 865.2,313.5 866.1,305.0 866.9,296.8 867.7,288.9 868.6,281.3 869.4,274.1 870.3,267.2 
871.1,260.6 871.9,254.4 872.8,248.6 873.6,243.1 874.5,238.1 875.3,233.5 876.1,229.3 877.0,225.5 877.8,222.2 878.7,219.4 
879.5,217.0 880.3,215.1 881.2,213.7 882.0,212.8 882.8,212.3 883.7,212.4 884.5,212.9 885.4,213.9 886.2,215.5 887.0,217.5 
887.9,220.0 888.7,222.9 889.6,226.4 890.4,230.3 891.2,234.6 892.1,239.4 892.9,244.5 893.8,250.1 894.6,256.1 895.4,262.4 
896.3,269.1 897.1,276.2 898.0,283.5 898.8,291.2 899.6,299.2 900.5,307.5 901.3,316.0 902.2,324.8 903.0,333.9 903.8,343.2 
904.7,352.7 905.5,362.4 906.4,372.4 907.2,382.6 908.0,392.9 908.9,403.5 909.7,414.2 910.6,425.2 911.4,436.3 912.2,447.6 
913.1,459.0 913.9,470.6 914.8,482.4 915.6,494.3 916.4,506.4 917.3,518.6 918.1,530.9 919.0,543.3 919.8,555.9 920.6,568.5 
921.5,581.3 922.3,594.1 923.2,607.0 924.0,619.8 924.8,632.6 925.7,645.4 926.5,658.1 927.4,670.7 928.2,683.2 929.0,695.7 
929.9,708.0 930.7,720.1 931.6,725.0 990.4,725.0 991.2,715.1 992.0,702.9 992.9,690.5 993.7,678.0 994.6,665.5 995.4,652.8 
996.2,640.1 997.1,627.3 997.9,614.5 998.8,601.6 999.6,588.7 1000.4,575.9 1001.3,563.2 1002.1,550.6 1003.0,538.0 1003.8,525.6 
1004.6,513.3 1005.5,501.1 1006.3,489.0 1007.2,477.1 1008.0,465.3 1008.8,453.7 1009.7,442.2 1010.5,431.0 1011.4,419.8 1012.2,408.9 
1013.0,398.2 1013.9,387.6 1014.7,377.3 1015.6,367.2 1016.4,357.3 1017.2,347.6 1018.1,338.1 1018.9,328.9 1019.8,320.0 1020.6,311.3 
1021.4,302.9 1022.3,294.8 1023.1,287.0 1024.0,279.5 1024.8,272.3 1025.6,265.5 1026.5,259.0 1027.3,252.9 1028.2,247.1 1029.0,241.8 
1029.8,236.9 1030.7,232.4 1031.5,228.3 1032.4,224.6 1033.2,221.5 1034.0,218.7 1034.9,216.5 1035.7,214.7 1036.6,213.4 1037.4,212.6 
1038.2,212.3 1039.1,212.5 1039.9,213.1 1040.8,214.3 1041.6,215.9 1042.4,218.1 1043.3,220.7 1044.1,223.8 1045.0,227.3 1045.8,231.3 
1046.6,235.8 1047.5,240.6 1048.3,245.9 1049.2,251.6 1050.0,257.7 1050.8,264.1 1051.7,270.9 1052.5,278.0 1053.4,285.5 1054.2,293.2 
1055.0,301.3 1055.9,309.6 1056.7,318.2 1057.6,327.1 1058.4,336.2 1059.2,345.6 1060.1,355.2 1060.9,365.0 1061.8,375.0 1062.6,385.2 
1063.4,395.6 1064.3,406.2 1065.1,417.0 1066.0,428.0 1066.8,439.1 1067.6,450.5 1068.5,462.0 1069.3,473.6 1070.2,485.4 1071.0,497.4 
1071.8,509.5 1072.7,521.7 1073.5,534.0 1074.4,546.5 1075.2,559.1 1076.0,571.8 1076.9,584.5 1077.7,597.4 1078.6,610.2 1079.4,623.1 
1080.2,635.9 1081.1,648.6 1081.9,661.3 1082.8,673.9 1083.6,686.4 1084.4,698.8 1085.3,711.1 1086.1,723.2 1086.9,725.0 1144.9,725.0 
1145.7,724.1 1146.6,712.0 1147.4,699.7 1148.3,687.3 1149.1,674.8 1149.9,662.3 1150.8,649.6 1151.6,636.8 1152.5,624.0 1153.3,611.2 
1154.1,598.3 1155.0,585.4 1155.8,572.7 1156.7,560.0 1157.5,547.4 1158.3,534.9 1159.2,522.4 1160.0,510.2 1160.9,498.0 1161.7,486.0 
1162.5,474.1 1163.4,462.3 1164.2,450.8 1165.1,439.3 1165.9,428.1 1166.7,417.0 1167.6,406.2 1168.4,395.5 1169.3,385.0 1170.1,374.7 
1170.9,364.6 1171.8,354.8 1172.6,345.1 1173.5,335.8 1174.3,326.6 1175.1,317.7 1176.0,309.1 1176.8,300.8 1177.7,292.8 1178.5,285.0 
1179.3,277.6 1180.2,270.5 1181.0,263.8 1181.9,257.4 1182.7,251.4 1183.5,245.7 1184.4,240.5 1185.2,235.7 1186.1,231.3 1186.9,227.3 
1187.7,223.8 1188.6,220.7 1189.4,218.1 1190.3,216.0 1191.1,214.3 1191.9,213.2 1192.8,212.5 1193.6,212.3 1194.5,212.6 1195.3,213.4 
1196.1,214.7 1197.0,216.4 1197.8,218.7 1198.7,221.4 1199.5,224.6 1200.3,228.3 1201.2,232.4 1202.0,237.0 1202.9,242.0 1203.7,247.3 
1204.5,253.1 1205.4,259.3 1206.2,265.8 1207.1,272.7 1207.9,279.9 1208.7,287.4 1209.6,295.2 1210.4,303.4 1211.3,311.8 1212.1,320.5 
1212.9,329.4 1213.8,338.6 1214.6,348.0 1215.5,357.6 1216.3,367.5 1217.1,377.6 1218.0,387.8 1218.8,398.3 1219.7,409.0 1220.5,419.8 
1221.3,430.8 1222.2,442.0 1223.0,453.4 1223.9,464.9 1224.7,476.6 1225.5,488.5 1226.4,500.4 1227.2,512.6 1228.1,524.8 1228.9,537.2 
1229.7,549.7 1230.6,562.3 1231.4,575.0 1232.3,587.8 1233.1,600.7 1233.9,613.5 1234.8,626.4 1235.6,639.2 1236.5,651.9 1237.3,664.6 
1238.1,677.1 1239.0,689.6 1239.8,702.0 1240.7,714.2 1241.5,725.0 1300.3,725.0 1301.1,721.0 1302.0,708.9 1302.8,696.6 1303.6,684.2 
1304.5,671.6 1305.3,659.0 1306.2,646.3 1307.0,633.6 1307.8,620.7 1308.7,607.9 1309.5,595.0 1310.4,582.2 1311.2,569.4 1312.0,556.8 
1312.9,544.2 1313.7,531.7 1314.6,519.3 1315.4,507.0 1316.2,494.9 1317.1,482.9 1317.9,471.1 1318.8,459.4 1319.6,447.8 1320.4,436.5 
1321.3,425.3 1322.1,414.2 1323.0,403.4 1323.8,392.8 1324.6,382.3 1325.5,372.1 1326.3,362.1 1327.2,352.3 1328.0,342.7 1328.8,333.4 
1329.7,324.3 1330.5,315.5 1331.4,307.0 1332.2,298.7 1333.0,290.7 1333.9,283.1 1334.7,275.8 1335.6,268.8 1336.4,262.1 1337.2,255.8 
1338.1,249.9 1338.9,244.4 1339.8,239.2 1340.6,234.5 1341.4,230.2 1342.3,226.4 1343.1,223.0 1344.0,220.0 1344.8,217.5 1345.6,215.5 
1346.5,214.0 1347.3,212.9 1348.2,212.4 1349.0,212.3 1349.8,212.7 1350.7,213.7 1351.5,215.1 1352.4,217.0 1353.2,219.4 1354.0,222.2 
1354.9,225.5 1355.7,229.3 1356.6,233.6 1357.4,238.2 1358.2,243.3 1359.1,248.8 1359.9,254.7 1360.8,260.9 1361.6,267.5 1362.4,274.5 
1363.3,281.8 1364.1,289.4 1365.0,297.3 1365.8,305.5 1366.6,314.0 1367.5,322.7 1368.3,331.7 1369.2,341.0 1370.0,350.4 1370.8,360.1 
1371.7,370.1 1372.5,380.2 1373.4,390.5 1374.2,401.0 1375.0,411.7 1375.9,422.6 1376.7,433.7 1377.6,444.9 1378.4,456.3 1379.2,467.9 
1380.1,479.6 1380.9,491.5 1381.8,503.5 1382.6,515.7 1383.4,528.0 1384.3,540.4 1385.1,552.9 1386.0,565.6 1386.8,578.3"/>
</g>
<g shape-rendering="crispEdges">
<rect x="279" y="1062.8" width="21" height="3" fill="#0a0a0a"/><rect x="279" y="1065.8" width="21" height="2.6" fill="#a0a0a0"/>
<rect x="288" y="1006.1" width="12" height="3" fill="#0a0a0a"/><rect x="288" y="1009.1" width="12" height="2.6" fill="#a0a0a0"/>
<rect x="279" y="949.5" width="21" height="3" fill="#0a0a0a"/><rect x="279" y="952.5" width="21" height="2.6" fill="#a0a0a0"/>
<rect x="288" y="892.8" width="12" height="3" fill="#0a0a0a"/><rect x="288" y="895.8" width="12" height="2.6" fill="#a0a0a0"/>
<rect x="279" y="836.1" width="21" height="3" fill="#0a0a0a"/><rect x="279" y="839.1" width="21" height="2.6" fill="#a0a0a0"/>
<rect x="288" y="779.5" width="12" height="3" fill="#0a0a0a"/><rect x="288" y="782.5" width="12" height="2.6" fill="#a0a0a0"/>
<rect x="279" y="722.8" width="21" height="3" fill="#0a0a0a"/><rect x="279" y="725.8" width="21" height="2.6" fill="#a0a0a0"/>
<rect x="288" y="666.1" width="12" height="3" fill="#0a0a0a"/><rect x="288" y="669.1" width="12" height="2.6" fill="#a0a0a0"/>
<rect x="279" y="609.5" width="21" height="3" fill="#0a0a0a"/><rect x="279" y="612.5" width="21" height="2.6" fill="#a0a0a0"/>
<rect x="288" y="552.8" width="12" height="3" fill="#0a0a0a"/><rect x="288" y="555.8" width="12" height="2.6" fill="#a0a0a0"/>
<rect x="279" y="496.1" width="21" height="3" fill="#0a0a0a"/><rect x="279" y="499.1" width="21" height="2.6" fill="#a0a0a0"/>
<rect x="288" y="439.5" width="12" height="3" fill="#0a0a0a"/><rect x="288" y="442.5" width="12" height="2.6" fill="#a0a0a0"/>
<rect x="279" y="382.8" width="21" height="3" fill="#0a0a0a"/><rect x="279" y="385.8" width="21" height="2.6" fill="#a0a0a0"/>
<rect x="288" y="326.1" width="12" height="3" fill="#0a0a0a"/><rect x="288" y="329.1" width="12" height="2.6" fill="#a0a0a0"/>
<rect x="279" y="269.5" width="21" height="3" fill="#0a0a0a"/><rect x="279" y="272.5" width="21" height="2.6" fill="#a0a0a0"/>
<rect x="288" y="212.8" width="12" height="3" fill="#0a0a0a"/><rect x="288" y="215.8" width="12" height="2.6" fill="#a0a0a0"/>
<rect x="279" y="156.1" width="21" height="3" fill="#0a0a0a"/><rect x="279" y="159.1" width="21" height="2.6" fill="#a0a0a0"/>
<rect x="288" y="99.5" width="12" height="3" fill="#0a0a0a"/><rect x="288" y="102.5" width="12" height="2.6" fill="#a0a0a0"/>
<rect x="279" y="42.8" width="21" height="3" fill="#0a0a0a"/><rect x="279" y="45.8" width="21" height="2.6" fill="#a0a0a0"/>
<rect x="376.1" y="1065" width="2.4" height="21" fill="#a8a8a8"/><rect x="378.5" y="1065" width="3" height="21" fill="#0a0a0a"/>
<rect x="475.0" y="1065" width="2.4" height="9.5" fill="#a8a8a8"/><rect x="477.4" y="1065" width="3" height="9.5" fill="#0a0a0a"/>
<rect x="573.9" y="1065" width="2.4" height="21" fill="#a8a8a8"/><rect x="576.3" y="1065" width="3" height="21" fill="#0a0a0a"/>
<rect x="672.8" y="1065" width="2.4" height="9.5" fill="#a8a8a8"/><rect x="675.2" y="1065" width="3" height="9.5" fill="#0a0a0a"/>
<rect x="771.8" y="1065" width="2.4" height="21" fill="#a8a8a8"/><rect x="774.1" y="1065" width="3" height="21" fill="#0a0a0a"/>
<rect x="870.7" y="1065" width="2.4" height="9.5" fill="#a8a8a8"/><rect x="873.1" y="1065" width="3" height="9.5" fill="#0a0a0a"/>
<rect x="969.6" y="1065" width="2.4" height="21" fill="#a8a8a8"/><rect x="972.0" y="1065" width="3" height="21" fill="#0a0a0a"/>
<rect x="1068.5" y="1065" width="2.4" height="9.5" fill="#a8a8a8"/><rect x="1070.9" y="1065" width="3" height="9.5" fill="#0a0a0a"/>
<rect x="1167.4" y="1065" width="2.4" height="21" fill="#a8a8a8"/><rect x="1169.8" y="1065" width="3" height="21" fill="#0a0a0a"/>
<rect x="1266.3" y="1065" width="2.4" height="9.5" fill="#a8a8a8"/><rect x="1268.7" y="1065" width="3" height="9.5" fill="#0a0a0a"/>
<rect x="1365.2" y="1065" width="2.4" height="21" fill="#a8a8a8"/><rect x="1367.6" y="1065" width="3" height="21" fill="#0a0a0a"/>
<rect x="1464.1" y="1065" width="2.4" height="9.5" fill="#a8a8a8"/><rect x="1466.5" y="1065" width="3" height="9.5" fill="#0a0a0a"/>
<rect x="1563.0" y="1065" width="2.4" height="21" fill="#a8a8a8"/><rect x="1565.4" y="1065" width="3" height="21" fill="#0a0a0a"/>
<rect x="297" y="42" width="6" height="1024" fill="#555"/>
<rect x="279" y="42" width="1290" height="3" fill="#404040"/>
<rect x="279" y="45" width="1290" height="3" fill="#686868"/>
<rect x="279" y="1062" width="1288" height="3" fill="#000"/>
<rect x="279" y="1065" width="1288" height="3" fill="#999"/>
<rect x="1564.5" y="42" width="3.5" height="1044" fill="#000"/>
<rect x="1568" y="42" width="2.4" height="1044" fill="#c0c0c0"/>
</g>
<g filter="url(#softt)">
<text transform="translate(265.0,1085.0) scale(1,1.03)" text-anchor="end"><tspan textLength="45" lengthAdjust="spacingAndGlyphs">−</tspan><tspan dx="-4">150</tspan></text>
<text transform="translate(265.0,971.7) scale(1,1.03)" text-anchor="end"><tspan textLength="45" lengthAdjust="spacingAndGlyphs">−</tspan><tspan dx="-4">100</tspan></text>
<text transform="translate(265.0,858.3) scale(1,1.03)" text-anchor="end"><tspan textLength="45" lengthAdjust="spacingAndGlyphs">−</tspan><tspan dx="-4">50</tspan></text>
<text transform="translate(265.0,745.0) scale(1,1.03)" text-anchor="end">0</text>
<text transform="translate(265.0,631.7) scale(1,1.03)" text-anchor="end">50</text>
<text transform="translate(265.0,518.3) scale(1,1.03)" text-anchor="end">100</text>
<text transform="translate(265.0,405.0) scale(1,1.03)" text-anchor="end">150</text>
<text transform="translate(265.0,291.7) scale(1,1.03)" text-anchor="end">200</text>
<text transform="translate(265.0,178.3) scale(1,1.03)" text-anchor="end">250</text>
<text transform="translate(265.0,65.0) scale(1,1.03)" text-anchor="end">300</text>
<text transform="translate(379.1,1151.0) scale(1,1.03)" text-anchor="middle">0.000</text>
<text transform="translate(576.9,1151.0) scale(1,1.03)" text-anchor="middle">0.025</text>
<text transform="translate(774.8,1151.0) scale(1,1.03)" text-anchor="middle">0.050</text>
<text transform="translate(972.6,1151.0) scale(1,1.03)" text-anchor="middle">0.075</text>
<text transform="translate(1170.4,1151.0) scale(1,1.03)" text-anchor="middle">0.100</text>
<text transform="translate(1368.2,1151.0) scale(1,1.03)" text-anchor="middle">0.125</text>
<text transform="translate(1566.0,1151.0) scale(1,1.03)" text-anchor="middle">0.150</text>
<text transform="translate(932.5,1259.5) scale(1,1.03)" text-anchor="middle" textLength="228.7" lengthAdjust="spacing">Time (s)</text>
<text transform="translate(62.0,510.3) rotate(-90) scale(1,1.03)" text-anchor="middle" textLength="892" lengthAdjust="spacing">Vibration compaction force (kN)</text>
<circle cx="1138.2" cy="90" r="6.8" fill="#ff0000"/>
<rect x="1060.5" y="169.8" width="157.5" height="5.4" fill="#111"/>
<text transform="translate(1230.5,113.0) scale(1,1.03)">Test</text>
<text transform="translate(1230.5,195.5) scale(1,1.03)" textLength="296.6" lengthAdjust="spacing">Simulation</text>
</g>
</svg>
</body>
</html>
